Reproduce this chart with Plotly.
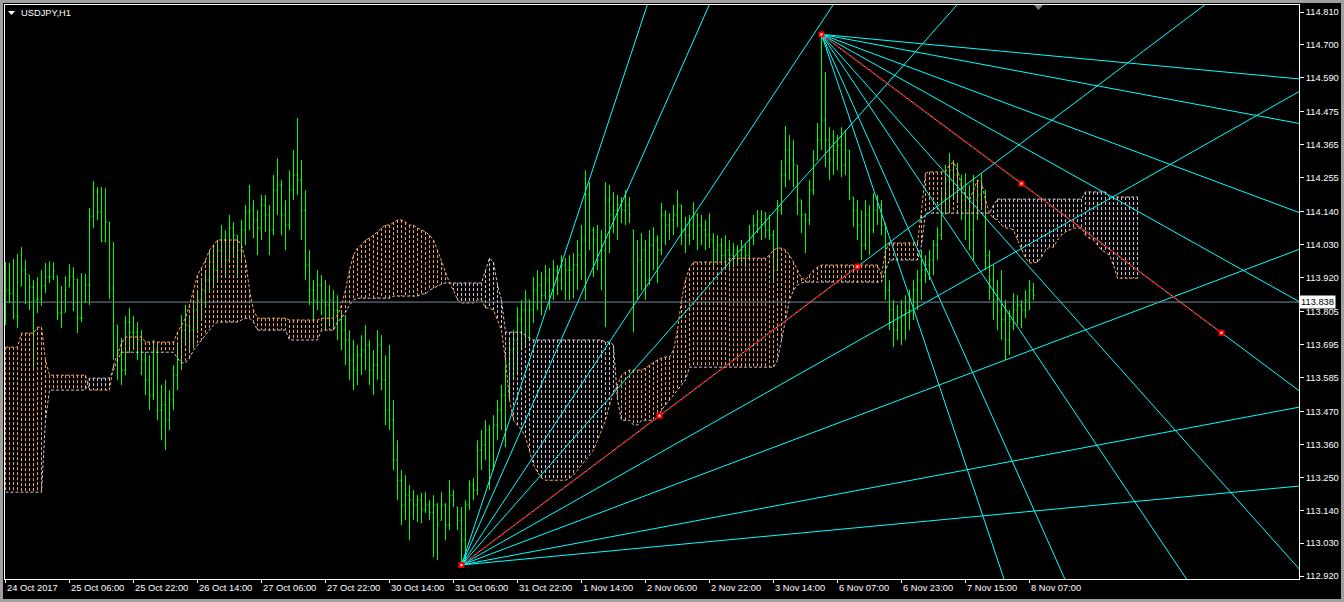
import plotly.graph_objects as go

# ---------------- data ----------------
symbol_label = "USDJPY,H1"
time_labels = ["24 Oct 2017", "25 Oct 06:00", "25 Oct 22:00", "26 Oct 14:00", "27 Oct 06:00",
               "27 Oct 22:00", "30 Oct 14:00", "31 Oct 06:00", "31 Oct 22:00", "1 Nov 14:00",
               "2 Nov 06:00", "2 Nov 22:00", "3 Nov 14:00", "6 Nov 07:00", "6 Nov 23:00",
               "7 Nov 15:00", "8 Nov 07:00"]
time_label_bars = [0, 16, 32, 48, 64, 80, 96, 112, 128, 144, 160, 176, 192, 208, 224, 240, 256]
price_ticks = [114.810, 114.700, 114.590, 114.475, 114.365, 114.255, 114.140, 114.030, 113.920,
               113.805, 113.695, 113.585, 113.470, 113.360, 113.250, 113.140, 113.030, 112.920]
price_tick_text = ["114.810", "114.700", "114.590", "114.475", "114.365", "114.255", "114.140",
                   "114.030", "113.920", "113.805", "113.695", "113.585", "113.470", "113.360",
                   "113.250", "113.140", "113.030", "112.920"]
current_price = 113.838

bar_open = [
    113.845, 113.878, 113.868, 113.791, 113.892, 113.945, 113.928, 113.888, 113.845, 113.848,
    113.892, 113.922, 113.922, 113.925, 113.801, 113.804, 113.888, 113.925, 113.915, 113.784,
    113.838, 113.895, 114.126, 114.207, 114.140, 114.042, 114.106, 113.885, 113.761, 113.667,
    113.610, 113.771, 113.737, 113.737, 113.711, 113.644, 113.577, 113.526, 113.677, 113.476,
    113.493, 113.442, 113.510, 113.593, 113.644, 113.744, 113.761, 113.744, 113.811, 113.845,
    113.878, 113.912, 113.972, 113.945, 114.012, 114.046, 113.979, 114.086, 114.062, 114.012,
    114.079, 114.140, 114.146, 114.113, 114.086, 114.163, 114.130, 114.079, 114.213, 114.230,
    114.130, 114.096, 114.213, 114.264, 114.247, 114.146, 113.962, 113.878, 113.845, 113.895,
    113.845, 113.828, 113.845, 113.811, 113.778, 113.744, 113.711, 113.644, 113.610, 113.660,
    113.677, 113.694, 113.610, 113.627, 113.694, 113.577, 113.476, 113.442, 113.308, 113.241,
    113.158, 113.191, 113.174, 113.158, 113.174, 113.141, 113.158, 113.134, 113.158, 113.107,
    113.158, 113.091, 113.191, 113.151, 113.107, 113.040, 113.158, 113.225, 113.208, 113.342,
    113.359, 113.409, 113.275, 113.426, 113.476, 113.526, 113.627, 113.677, 113.711, 113.778,
    113.811, 113.845, 113.811, 113.878, 113.895, 113.861, 113.912, 113.878, 113.945, 113.912,
    113.962, 113.945, 113.945, 113.962, 113.995, 114.046, 114.197, 114.079, 114.046, 113.979,
    114.012, 114.180, 114.130, 114.146, 114.163, 114.146, 114.163, 114.079, 113.878, 113.979,
    114.012, 113.912, 114.029, 114.046, 114.012, 114.130, 114.096, 114.113, 114.130, 114.163,
    114.079, 114.062, 114.096, 114.130, 114.096, 114.079, 114.062, 114.046, 114.012, 114.029,
    113.995, 114.012, 113.995, 114.012, 113.995, 114.012, 113.995, 114.062, 114.096, 114.113,
    114.096, 114.079, 114.062, 113.945, 114.146, 114.264, 114.347, 114.314, 114.297, 114.180,
    114.130, 114.113, 114.213, 114.314, 114.381, 114.448, 114.381, 114.314, 114.347, 114.364,
    114.297, 114.347, 114.190, 114.146, 114.096, 114.029, 114.130, 114.079, 114.146, 114.163,
    114.096, 113.878, 113.811, 113.744, 113.778, 113.794, 113.811, 113.845, 113.878, 113.912,
    113.945, 113.962, 113.979, 114.029, 114.062, 114.180, 114.247, 114.280, 114.264, 114.230,
    114.180, 114.146, 114.079, 114.180, 114.197, 114.213, 113.995, 113.912, 113.845, 113.811,
    113.778, 113.711, 113.778, 113.811, 113.828, 113.811, 113.845, 113.878]

bar_high = [
    113.972, 113.969, 113.982, 113.999, 114.022, 113.979, 113.928, 113.912, 113.922, 113.945,
    113.969, 113.975, 113.972, 113.925, 113.892, 113.925, 113.965, 113.955, 113.915, 113.935,
    113.932, 114.153, 114.243, 114.223, 114.223, 114.220, 114.106, 114.039, 113.761, 113.717,
    113.791, 113.818, 113.791, 113.771, 113.744, 113.670, 113.660, 113.711, 113.694, 113.560,
    113.577, 113.543, 113.627, 113.694, 113.794, 113.828, 113.794, 113.845, 113.878, 113.912,
    113.945, 114.012, 114.029, 114.046, 114.096, 114.079, 114.130, 114.106, 114.062, 114.113,
    114.163, 114.230, 114.180, 114.146, 114.197, 114.197, 114.163, 114.264, 114.320, 114.247,
    114.180, 114.280, 114.347, 114.455, 114.314, 114.213, 114.012, 113.912, 113.945, 113.928,
    113.912, 113.895, 113.878, 113.861, 113.811, 113.794, 113.744, 113.711, 113.694, 113.727,
    113.761, 113.711, 113.677, 113.744, 113.727, 113.660, 113.694, 113.510, 113.375, 113.275,
    113.258, 113.225, 113.208, 113.191, 113.198, 113.201, 113.174, 113.191, 113.164, 113.201,
    113.164, 113.241, 113.208, 113.151, 113.151, 113.174, 113.241, 113.248, 113.375, 113.409,
    113.442, 113.426, 113.459, 113.510, 113.560, 113.654, 113.711, 113.744, 113.821, 113.845,
    113.878, 113.845, 113.922, 113.945, 113.938, 113.962, 113.952, 113.979, 113.962, 113.995,
    113.985, 113.995, 114.002, 114.046, 114.096, 114.280, 114.240, 114.089, 114.096, 114.079,
    114.240, 114.230, 114.207, 114.197, 114.190, 114.213, 114.190, 114.079, 114.046, 114.069,
    114.046, 114.079, 114.089, 114.062, 114.170, 114.146, 114.136, 114.163, 114.213, 114.163,
    114.123, 114.130, 114.173, 114.136, 114.130, 114.113, 114.136, 114.069, 114.062, 114.052,
    114.062, 114.046, 114.036, 114.029, 114.046, 114.036, 114.096, 114.130, 114.146, 114.146,
    114.140, 114.130, 114.079, 114.180, 114.314, 114.428, 114.398, 114.381, 114.297, 114.180,
    114.136, 114.247, 114.347, 114.438, 114.736, 114.609, 114.424, 114.414, 114.398, 114.424,
    114.414, 114.347, 114.190, 114.180, 114.146, 114.180, 114.163, 114.203, 114.197, 114.180,
    114.103, 113.912, 113.845, 113.828, 113.845, 113.861, 113.878, 113.912, 113.945, 114.012,
    113.995, 114.012, 114.046, 114.089, 114.213, 114.297, 114.337, 114.314, 114.304, 114.264,
    114.270, 114.230, 114.264, 114.247, 114.270, 114.213, 114.012, 113.962, 113.912, 113.945,
    113.845, 113.811, 113.868, 113.861, 113.845, 113.878, 113.912, 113.902]

bar_low = [
    113.761, 113.835, 113.781, 113.751, 113.892, 113.831, 113.811, 113.610, 113.801, 113.825,
    113.868, 113.902, 113.912, 113.778, 113.751, 113.804, 113.888, 113.808, 113.734, 113.771,
    113.838, 113.828, 114.086, 114.113, 114.039, 114.039, 113.848, 113.644, 113.577, 113.560,
    113.593, 113.667, 113.687, 113.644, 113.593, 113.526, 113.476, 113.510, 113.442, 113.375,
    113.342, 113.409, 113.476, 113.543, 113.610, 113.694, 113.677, 113.694, 113.744, 113.778,
    113.828, 113.878, 113.895, 113.912, 113.962, 113.928, 113.972, 113.985, 113.928, 113.972,
    114.029, 114.079, 114.052, 113.995, 114.046, 114.073, 113.995, 114.062, 114.130, 114.062,
    114.012, 114.079, 114.180, 114.197, 114.046, 113.912, 113.828, 113.778, 113.811, 113.794,
    113.744, 113.761, 113.744, 113.711, 113.677, 113.627, 113.577, 113.543, 113.560, 113.593,
    113.610, 113.560, 113.526, 113.577, 113.543, 113.426, 113.409, 113.275, 113.174, 113.091,
    113.107, 113.040, 113.107, 113.101, 113.097, 113.131, 113.107, 112.983, 112.973, 113.107,
    113.040, 113.074, 113.151, 113.074, 112.957, 112.973, 113.141, 113.174, 113.191, 113.275,
    113.308, 113.208, 113.275, 113.375, 113.409, 113.352, 113.510, 113.577, 113.600, 113.677,
    113.694, 113.711, 113.768, 113.811, 113.794, 113.845, 113.811, 113.845, 113.861, 113.878,
    113.845, 113.845, 113.851, 113.878, 113.912, 113.845, 114.012, 113.922, 113.945, 113.878,
    113.754, 114.002, 114.069, 114.046, 114.103, 114.096, 114.103, 113.737, 113.845, 113.878,
    113.845, 113.895, 113.945, 113.902, 113.995, 114.029, 114.046, 114.062, 114.089, 114.029,
    114.002, 114.029, 114.046, 114.012, 114.029, 114.012, 114.019, 113.955, 113.972, 113.962,
    113.955, 113.945, 113.955, 113.962, 113.972, 113.955, 113.979, 114.029, 114.069, 114.046,
    114.052, 114.046, 113.902, 113.945, 114.130, 114.223, 114.247, 114.223, 114.130, 114.069,
    114.002, 114.096, 114.197, 114.314, 114.347, 114.290, 114.247, 114.264, 114.280, 114.257,
    114.264, 114.180, 114.089, 114.046, 113.979, 114.012, 113.995, 114.069, 114.096, 114.062,
    113.845, 113.744, 113.687, 113.711, 113.694, 113.711, 113.744, 113.778, 113.811, 113.845,
    113.902, 113.912, 113.928, 113.979, 114.046, 114.130, 114.136, 114.180, 114.180, 114.113,
    114.046, 114.012, 113.979, 114.113, 114.156, 113.945, 113.845, 113.778, 113.744, 113.711,
    113.644, 113.660, 113.744, 113.761, 113.751, 113.784, 113.811, 113.845]

bar_close = [
    113.878, 113.868, 113.791, 113.788, 113.945, 113.932, 113.888, 113.845, 113.848, 113.892,
    113.922, 113.922, 113.942, 113.801, 113.804, 113.878, 113.925, 113.915, 113.784, 113.784,
    113.895, 114.126, 114.207, 114.140, 114.042, 114.106, 113.885, 113.778, 113.667, 113.610,
    113.771, 113.737, 113.737, 113.711, 113.644, 113.577, 113.526, 113.677, 113.476, 113.493,
    113.442, 113.510, 113.593, 113.644, 113.744, 113.761, 113.744, 113.811, 113.845, 113.878,
    113.912, 113.972, 113.945, 114.012, 114.046, 113.979, 114.086, 114.062, 114.012, 114.079,
    114.140, 114.146, 114.113, 114.086, 114.163, 114.130, 114.079, 114.213, 114.230, 114.130,
    114.096, 114.213, 114.264, 114.247, 114.146, 113.962, 113.878, 113.845, 113.895, 113.845,
    113.828, 113.845, 113.811, 113.778, 113.744, 113.711, 113.644, 113.610, 113.660, 113.677,
    113.694, 113.610, 113.627, 113.694, 113.577, 113.476, 113.442, 113.308, 113.241, 113.158,
    113.191, 113.174, 113.158, 113.174, 113.141, 113.158, 113.134, 113.158, 113.091, 113.158,
    113.091, 113.191, 113.174, 113.107, 113.040, 113.158, 113.225, 113.208, 113.342, 113.359,
    113.409, 113.275, 113.426, 113.476, 113.526, 113.627, 113.677, 113.711, 113.778, 113.811,
    113.845, 113.811, 113.878, 113.895, 113.861, 113.912, 113.878, 113.945, 113.912, 113.962,
    113.945, 113.945, 113.962, 113.995, 114.046, 114.197, 114.079, 114.046, 113.979, 114.012,
    114.180, 114.130, 114.146, 114.163, 114.146, 114.163, 114.130, 113.878, 113.979, 114.012,
    113.912, 114.029, 114.046, 114.012, 114.130, 114.096, 114.113, 114.130, 114.163, 114.079,
    114.062, 114.096, 114.130, 114.096, 114.079, 114.062, 114.046, 114.012, 114.029, 113.995,
    114.012, 113.995, 114.012, 113.995, 114.012, 113.995, 114.062, 114.096, 114.113, 114.096,
    114.079, 114.062, 113.945, 114.146, 114.264, 114.347, 114.314, 114.297, 114.180, 114.130,
    114.113, 114.213, 114.314, 114.381, 114.448, 114.381, 114.314, 114.347, 114.364, 114.297,
    114.347, 114.213, 114.146, 114.096, 114.029, 114.130, 114.079, 114.146, 114.163, 114.096,
    113.878, 113.811, 113.744, 113.778, 113.794, 113.811, 113.845, 113.878, 113.912, 113.945,
    113.962, 113.979, 114.029, 114.062, 114.180, 114.247, 114.280, 114.264, 114.230, 114.180,
    114.146, 114.079, 114.180, 114.197, 114.230, 113.995, 113.912, 113.845, 113.811, 113.778,
    113.711, 113.778, 113.811, 113.828, 113.811, 113.845, 113.878, 113.861]

# Ichimoku Senkou span A (sandy brown) and span B (thistle), already shifted 26 bars ahead
span_a = [
    113.687, 113.687, 113.687, 113.687, 113.734, 113.734, 113.734, 113.734, 113.754, 113.754,
    113.644, 113.593, 113.593, 113.593, 113.593, 113.593, 113.593, 113.593, 113.593, 113.593,
    113.593, 113.543, 113.543, 113.543, 113.543, 113.543, 113.543, 113.627, 113.667, 113.700,
    113.721, 113.721, 113.721, 113.721, 113.721, 113.704, 113.704, 113.704, 113.704, 113.704,
    113.704, 113.704, 113.704, 113.737, 113.761, 113.784, 113.828, 113.878, 113.928, 113.952,
    113.979, 114.012, 114.029, 114.046, 114.046, 114.046, 114.046, 114.046, 114.046, 114.029,
    113.979, 113.878, 113.811, 113.784, 113.784, 113.784, 113.784, 113.784, 113.784, 113.784,
    113.784, 113.778, 113.778, 113.778, 113.778, 113.778, 113.778, 113.778, 113.778, 113.784,
    113.784, 113.784, 113.784, 113.794, 113.828, 113.878, 113.945, 113.995, 114.019, 114.029,
    114.046, 114.052, 114.062, 114.073, 114.086, 114.096, 114.096, 114.106, 114.113, 114.113,
    114.106, 114.096, 114.096, 114.086, 114.079, 114.073, 114.062, 114.046, 114.012, 113.972,
    113.938, 113.902, 113.878, 113.845, 113.835, 113.835, 113.835, 113.835, 113.845, 113.845,
    113.818, 113.818, 113.811, 113.778, 113.744, 113.644, 113.510, 113.442, 113.426, 113.409,
    113.386, 113.342, 113.292, 113.268, 113.248, 113.241, 113.241, 113.241, 113.241, 113.241,
    113.241, 113.248, 113.258, 113.275, 113.292, 113.308, 113.325, 113.342, 113.375, 113.409,
    113.442, 113.493, 113.536, 113.560, 113.593, 113.603, 113.610, 113.610, 113.610, 113.610,
    113.617, 113.627, 113.637, 113.644, 113.650, 113.654, 113.654, 113.677, 113.744, 113.845,
    113.912, 113.952, 113.972, 113.972, 113.972, 113.972, 113.972, 113.972, 113.972, 113.972,
    113.972, 113.985, 113.985, 113.985, 113.985, 113.985, 113.985, 113.985, 113.985, 113.985,
    113.985, 113.995, 114.012, 114.019, 114.019, 114.012, 113.995, 113.972, 113.945, 113.918,
    113.912, 113.928, 113.945, 113.955, 113.962, 113.962, 113.962, 113.962, 113.962, 113.962,
    113.962, 113.962, 113.962, 113.962, 113.962, 113.962, 113.962, 113.962, 113.962, 113.928,
    114.012, 114.036, 114.036, 114.036, 114.036, 114.036, 114.036, 114.036, 114.036, 114.146,
    114.270, 114.274, 114.274, 114.274, 114.274, 114.274, 114.297, 114.307, 114.280, 114.230,
    114.197, 114.180, 114.213, 114.247, 114.240, 114.180, 114.136, 114.119, 114.113, 114.096,
    114.086, 114.086, 114.079, 114.046, 114.012, 113.985, 113.969, 113.969, 113.972, 113.989,
    114.012, 114.022, 114.022, 114.046, 114.062, 114.073, 114.079, 114.086, 114.086, 114.086,
    114.062, 114.052, 114.046, 114.029, 114.012, 114.005, 113.995, 113.962, 113.918, 113.918,
    113.918, 113.918, 113.918, 113.918]

span_b = [
    113.201, 113.201, 113.201, 113.201, 113.201, 113.201, 113.201, 113.201, 113.201, 113.201,
    113.442, 113.543, 113.543, 113.543, 113.543, 113.543, 113.543, 113.543, 113.543, 113.543,
    113.543, 113.583, 113.583, 113.583, 113.583, 113.583, 113.583, 113.610, 113.644, 113.670,
    113.670, 113.670, 113.670, 113.670, 113.670, 113.670, 113.670, 113.670, 113.670, 113.670,
    113.670, 113.670, 113.670, 113.650, 113.634, 113.634, 113.650, 113.677, 113.694, 113.711,
    113.727, 113.744, 113.761, 113.771, 113.771, 113.771, 113.771, 113.771, 113.771, 113.778,
    113.784, 113.784, 113.771, 113.744, 113.744, 113.744, 113.744, 113.744, 113.744, 113.744,
    113.744, 113.711, 113.711, 113.711, 113.711, 113.711, 113.711, 113.711, 113.711, 113.744,
    113.744, 113.744, 113.744, 113.771, 113.784, 113.804, 113.828, 113.845, 113.851, 113.851,
    113.851, 113.851, 113.851, 113.851, 113.851, 113.851, 113.851, 113.858, 113.858, 113.858,
    113.858, 113.858, 113.858, 113.858, 113.865, 113.865, 113.878, 113.885, 113.892, 113.898,
    113.902, 113.902, 113.902, 113.902, 113.902, 113.902, 113.902, 113.902, 113.902, 113.902,
    113.945, 113.985, 113.972, 113.895, 113.845, 113.737, 113.737, 113.737, 113.737, 113.737,
    113.727, 113.717, 113.711, 113.711, 113.711, 113.711, 113.711, 113.711, 113.711, 113.711,
    113.711, 113.711, 113.711, 113.711, 113.711, 113.711, 113.711, 113.711, 113.711, 113.711,
    113.704, 113.704, 113.694, 113.510, 113.442, 113.442, 113.442, 113.426, 113.426, 113.442,
    113.442, 113.442, 113.442, 113.449, 113.476, 113.493, 113.510, 113.526, 113.543, 113.560,
    113.577, 113.620, 113.620, 113.620, 113.620, 113.620, 113.620, 113.620, 113.620, 113.620,
    113.620, 113.620, 113.620, 113.620, 113.620, 113.620, 113.620, 113.620, 113.620, 113.620,
    113.620, 113.620, 113.620, 113.644, 113.711, 113.778, 113.845, 113.878, 113.895, 113.902,
    113.905, 113.905, 113.905, 113.905, 113.905, 113.905, 113.905, 113.905, 113.905, 113.905,
    113.905, 113.905, 113.905, 113.905, 113.905, 113.905, 113.905, 113.905, 113.905, 113.905,
    113.945, 113.979, 113.979, 113.979, 113.979, 113.979, 113.979, 113.979, 113.979, 114.029,
    114.136, 114.136, 114.136, 114.136, 114.136, 114.136, 114.136, 114.136, 114.136, 114.136,
    114.136, 114.136, 114.136, 114.136, 114.136, 114.136, 114.136, 114.163, 114.183, 114.183,
    114.183, 114.183, 114.183, 114.183, 114.183, 114.183, 114.183, 114.183, 114.183, 114.183,
    114.183, 114.183, 114.183, 114.183, 114.183, 114.183, 114.183, 114.183, 114.183, 114.183,
    114.207, 114.207, 114.207, 114.207, 114.207, 114.207, 114.190, 114.190, 114.190, 114.190,
    114.190, 114.190, 114.190, 114.190]

# Gann fans: (bar, price) of origin and of the 1x1 anchor point
fan_anchors = [[(114, 112.957), (213, 113.957)],
               [(204, 114.735), (304, 113.735)]]
fan_ratios = [4, 3, 2, 1.5, 1, 0.75, 0.5, 0.25, 0.125]

assert len(bar_open) == len(bar_high) == len(bar_low) == len(bar_close) == 258
assert len(span_a) == len(span_b) == 284

# ---------------- styling ----------------
BAR_GREEN = "#00ff00"
SANDY = "#F4A460"
THISTLE = "#D8BFD8"
CYAN = "#00FFFF"
FONT = "Liberation Sans, Arial, sans-serif"
FS = 9.3
DOT = "3px,2px"

bar_index = list(range(len(bar_close)))
cloud_index = list(range(len(span_a)))

fig = go.Figure()

# cloud hatch (vertical dotted lines per bar)
hx_a, hy_a, hx_b, hy_b = [], [], [], []
for i, (a, b) in enumerate(zip(span_a, span_b)):
    if a >= b:
        hx_a += [i, i, None]
        hy_a += [a, b, None]
    else:
        hx_b += [i, i, None]
        hy_b += [b, a, None]
fig.add_trace(go.Scatter(x=hx_a, y=hy_a, mode="lines", line=dict(color=SANDY, width=1, dash=DOT),
                         hoverinfo="skip"))
fig.add_trace(go.Scatter(x=hx_b, y=hy_b, mode="lines", line=dict(color=THISTLE, width=1, dash=DOT),
                         hoverinfo="skip"))
fig.add_trace(go.Scatter(x=cloud_index, y=span_a, mode="lines", line=dict(color=SANDY, width=1, dash=DOT),
                         hoverinfo="skip"))
fig.add_trace(go.Scatter(x=cloud_index, y=span_b, mode="lines", line=dict(color=THISTLE, width=1, dash=DOT),
                         hoverinfo="skip"))

# price bars
fig.add_trace(go.Ohlc(x=bar_index, open=bar_open, high=bar_high, low=bar_low, close=bar_close,
                      increasing=dict(line=dict(color=BAR_GREEN, width=1)),
                      decreasing=dict(line=dict(color=BAR_GREEN, width=1)),
                      tickwidth=0.3, hoverinfo="skip"))

# Gann fans
fx, fy = [], []
reach = 400
for (i0, p0), (i1, p1) in fan_anchors:
    slope = (p1 - p0) / (i1 - i0)
    for r in fan_ratios:
        fx += [i0, i0 + reach, None]
        fy += [p0, p0 + slope * r * reach, None]
fig.add_trace(go.Scatter(x=fx, y=fy, mode="lines", line=dict(color=CYAN, width=1), hoverinfo="skip"))

for (i0, p0), (i1, p1) in fan_anchors:
    fig.add_trace(go.Scatter(x=[i0, i1], y=[p0, p1], mode="lines",
                             line=dict(color="#ff0000", width=1.5, dash="4px,2px"), hoverinfo="skip"))
    hx = [i0, (i0 + i1) / 2, i1]
    hy = [p0, (p0 + p1) / 2, p1]
    fig.add_trace(go.Scatter(x=hx, y=hy, mode="markers",
                             marker=dict(symbol="square", size=6, color="#ff0000",
                                         line=dict(width=0)), hoverinfo="skip"))
    fig.add_trace(go.Scatter(x=hx, y=hy, mode="markers",
                             marker=dict(symbol="square", size=2, color="#ffffff",
                                         line=dict(width=0)), hoverinfo="skip"))

# geometry helpers (plot area in pixels: x 5..1299, y 5..579)
PL, PR, PT, PB = 5, 1299, 5, 579
BAR_PX = 4.0                      # pixels per bar
X_LO = -0.5 / BAR_PX              # bar centres land on pixel centres
X_HI = X_LO + (PR - PL) / BAR_PX

def px_x(px):
    return (px - PL) / (PR - PL)
def px_y(py):
    return (PB - py) / (PB - PT)

shapes = [
    # current bid line
    dict(type="line", xref="paper", yref="y", x0=0, x1=1, y0=current_price, y1=current_price,
         line=dict(color="#778899", width=1), layer="above"),
    # chart-shift marker
    dict(type="path", xref="paper", yref="paper",
         path=f"M {px_x(1034)},{px_y(5)} L {px_x(1043)},{px_y(5)} L {px_x(1038.5)},{px_y(10)} Z",
         fillcolor="#808080", line=dict(width=0)),
    # symbol menu triangle
    dict(type="path", xref="paper", yref="paper",
         path=f"M {px_x(8)},{px_y(11)} L {px_x(15)},{px_y(11)} L {px_x(11.5)},{px_y(15)} Z",
         fillcolor="white", line=dict(width=0)),
    # window border
    dict(type="rect", xref="paper", yref="paper", x0=px_x(1.5), x1=px_x(1342.5),
         y0=px_y(600.5), y1=px_y(1.5), line=dict(color="#a0a0a0", width=3)),
]

annotations = [
    dict(text=symbol_label, xref="paper", yref="paper", x=px_x(19), y=px_y(13), xanchor="left",
         yanchor="middle", showarrow=False, font=dict(color="white", size=FS, family=FONT)),
    dict(text=f"{current_price:.3f}", xref="paper", yref="y", x=px_x(1299), y=current_price,
         xanchor="left", yanchor="middle", showarrow=False, bgcolor="white", borderpad=1,
         font=dict(color="black", size=FS, family=FONT)),
]
for b, lab in zip(time_label_bars, time_labels):
    annotations.append(dict(text=lab, xref="x", yref="paper", x=b, y=0, xanchor="left",
                            yanchor="top", yshift=-2, xshift=-1, showarrow=False,
                            font=dict(color="white", size=FS, family=FONT)))

fig.update_layout(
    width=1344, height=602, autosize=False,
    margin=dict(l=PL, r=1344 - PR, t=PT, b=602 - PB, pad=0),
    paper_bgcolor="black", plot_bgcolor="black",
    showlegend=False, hovermode=False,
    shapes=shapes, annotations=annotations,
    xaxis=dict(range=[X_LO, X_HI], showgrid=False, zeroline=False, tickmode="array",
               tickvals=time_label_bars, showticklabels=False, ticks="outside", ticklen=3,
               tickcolor="white", showline=True, linecolor="white", linewidth=1, mirror=True,
               rangeslider=dict(visible=False)),
    yaxis=dict(side="right", range=[112.910, 114.8335], showgrid=False, zeroline=False,
               tickmode="array", tickvals=price_ticks, ticktext=price_tick_text,
               ticks="outside", ticklen=4, tickcolor="white",
               tickfont=dict(color="white", size=FS, family=FONT),
               showline=True, linecolor="white", linewidth=1, mirror=True),
)

fig.write_html("out.html", config={"displayModeBar": False},
               post_script="document.body.style.margin='0';document.body.style.overflow='hidden';")
